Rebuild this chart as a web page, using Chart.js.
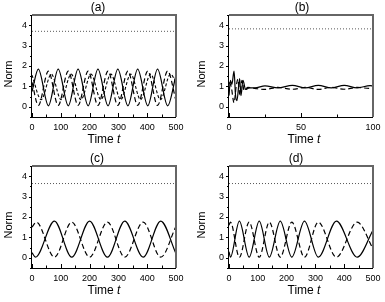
<!DOCTYPE html>
<html>
<head>
<meta charset="utf-8">
<script src="https://cdn.jsdelivr.net/npm/chart.js@4.4.0/dist/chart.umd.min.js"></script>
<style>
  body { margin: 0; background: #fff; }
  #wrap { position: relative; width: 385px; height: 302px; }
  .panel { position: absolute; }
</style>
</head>
<body>
<div id="wrap">
  <div class="panel" style="left:0;top:0"><canvas id="pa" width="192" height="151"></canvas></div>
  <div class="panel" style="left:192px;top:0"><canvas id="pb" width="193" height="151"></canvas></div>
  <div class="panel" style="left:0;top:151px"><canvas id="pc" width="192" height="151"></canvas></div>
  <div class="panel" style="left:192px;top:151px"><canvas id="pd" width="193" height="151"></canvas></div>
</div>
<script>
// panel (a)
const aSolidT = [0, 22, 57, 91, 126, 160, 195, 229, 264, 298, 333, 367, 402, 436, 471, 500];
const aSolidV = [0.75, 1.85, 0.05, 1.85, 0.05, 1.85, 0.05, 1.85, 0.05, 1.85, 0.05, 1.85, 0.05, 1.85, 0.05, 1.55];
const aDashT = [0, 22, 57, 91, 126, 160, 195, 229, 264, 298, 333, 367, 402, 436, 471, 500];
const aDashV = [1.2, 0.07, 1.75, 0.07, 1.75, 0.07, 1.75, 0.07, 1.75, 0.07, 1.75, 0.07, 1.75, 0.07, 1.75, 0.3];
const aDash2T = [0, 32, 67, 101, 136, 170, 205, 239, 274, 308, 343, 377, 412, 446, 481, 500];
const aDash2V = [1.55, 0.35, 1.6, 0.35, 1.6, 0.35, 1.6, 0.35, 1.6, 0.35, 1.6, 0.35, 1.6, 0.35, 1.6, 1.2];
const aTotal = 3.7;

// panel (b)
const bSolidT = [0, 1, 2, 3.5, 4.5, 5.5, 7.4, 8.3, 9.7, 11.5, 14, 18, 25, 34, 44, 53, 62, 71, 80, 89, 98, 100];
const bSolidV = [0.55, 1.3, 1.1, 1.75, 0.6, 0.3, 1.38, 0.55, 1.3, 0.85, 0.93, 0.93, 1.03, 0.93, 1.05, 0.93, 1.05, 0.93, 1.05, 0.93, 1.04, 1.02];
const bDashT = [0, 1.5, 3.5, 5, 6.2, 7.5, 9, 10.5, 13, 18, 25, 34, 44, 53, 62, 71, 80, 89, 98, 100];
const bDashV = [1.2, 1.0, 0.2, 1.0, 1.35, 0.6, 1.3, 0.8, 0.95, 0.9, 0.85, 0.95, 0.86, 0.95, 0.85, 0.95, 0.86, 0.95, 0.9, 0.92];
const bTotal = 3.82;

// panel (c)
const cSolidT = [0, 12, 78, 138, 200, 262, 322, 386, 447, 500];
const cSolidV = [0.25, 0.03, 1.8, 0.03, 1.8, 0.03, 1.8, 0.03, 1.8, 0.2];
const cDashT = [0, 15, 78, 138, 200, 262, 322, 386, 447, 500];
const cDashV = [1.5, 1.75, 0.03, 1.75, 0.03, 1.75, 0.03, 1.75, 0.03, 1.55];
const cTotal = 3.64;

// panel (d)
const dT = [0, 5, 36, 70, 105, 140, 178, 218, 262, 310, 373, 445, 500];
const dSolidV = [0.3, 0.03, 1.8, 0.03, 1.8, 0.03, 1.8, 0.03, 1.8, 0.03, 1.8, 0.03, 1.35];
const dDashV = [1.6, 1.75, 0.03, 1.75, 0.03, 1.75, 0.03, 1.75, 0.03, 1.75, 0.03, 1.75, 0.45];
const dTotal = 3.64;

// ticks
const xTicks500 = [0, 100, 200, 300, 400, 500];
const xMinor500 = [50, 150, 250, 350, 450];
const xTicks100 = [0, 50, 100];
const xMinor100 = [25, 75];
const yTicks = [0, 1, 2, 3, 4];
const yMinor = [-0.5, 0.5, 1.5, 2.5, 3.5, 4.5];
const FONT = '"Liberation Sans", Arial, sans-serif';

function pts(ts, vs) { return ts.map((t, i) => ({ x: t, y: vs[i] })); }

function line(data, dash, width, color) {
    return { data, borderColor: color || '#000', borderWidth: width || 1.2, borderDash: dash || [],
             pointRadius: 0, cubicInterpolationMode: 'monotone', fill: false };
}

const decor = {
    id: 'decor',
    afterDraw(chart, args, o) {
        const { ctx, chartArea: a, scales: { x, y } } = chart;
        ctx.save();
        ctx.strokeStyle = '#000';
        ctx.lineWidth = 1;
        const xt = (v, len) => {
            const px = Math.round(x.getPixelForValue(v)) + 0.5;
            ctx.beginPath(); ctx.moveTo(px, a.bottom); ctx.lineTo(px, a.bottom - len); ctx.stroke();
        };
        const yt = (v, len) => {
            const py = Math.round(y.getPixelForValue(v)) + 0.5;
            ctx.beginPath(); ctx.moveTo(a.left, py); ctx.lineTo(a.left - len, py); ctx.stroke();
        };
        o.xTicks.forEach(v => xt(v, 4));
        o.xMinor.forEach(v => xt(v, 2.5));
        yTicks.forEach(v => yt(v, 3));
        yMinor.forEach(v => yt(v, 2));
        // frame
        ctx.strokeStyle = '#666';
        ctx.lineWidth = 2;
        ctx.beginPath();
        ctx.moveTo(a.left, a.top); ctx.lineTo(a.right, a.top); ctx.lineTo(a.right, a.bottom);
        ctx.stroke();
        ctx.strokeStyle = '#000';
        ctx.lineWidth = 1;
        ctx.beginPath();
        ctx.moveTo(a.left - 0.5, a.top); ctx.lineTo(a.left - 0.5, a.bottom + 0.5); ctx.lineTo(a.right, a.bottom + 0.5);
        ctx.stroke();
        // tick labels
        ctx.fillStyle = '#000';
        ctx.textBaseline = 'middle';
        ctx.font = '9px ' + FONT;
        ctx.textAlign = 'center';
        o.xTicks.forEach(v => ctx.fillText(String(v), x.getPixelForValue(v), a.bottom + 11));
        ctx.textAlign = 'right';
        yTicks.forEach(v => ctx.fillText(String(v), a.left - 5, y.getPixelForValue(v)));
        // panel label
        ctx.textAlign = 'center';
        ctx.font = '12px ' + FONT;
        ctx.fillText(o.label, o.labelX, 8);
        // Time t
        const w1 = ctx.measureText('Time ').width;
        ctx.font = 'italic 12px ' + FONT;
        const w2 = ctx.measureText('t').width;
        const x0 = o.xTitleX - (w1 + w2) / 2;
        ctx.textAlign = 'left';
        ctx.font = '12px ' + FONT;
        ctx.fillText('Time ', x0, 140);
        ctx.font = 'italic 12px ' + FONT;
        ctx.fillText('t', x0 + w1, 140);
        // Norm
        ctx.font = '11px ' + FONT;
        ctx.textAlign = 'center';
        ctx.translate(o.yTitleX, 74);
        ctx.rotate(-Math.PI / 2);
        ctx.fillText('Norm', 0, 0);
        ctx.restore();
    }
};

function makeChart(id, datasets, cfg) {
    new Chart(document.getElementById(id), {
        type: 'line',
        data: { datasets },
        plugins: [decor],
        options: {
            responsive: false,
            animation: false,
            devicePixelRatio: 1,
            layout: { padding: { top: 15, right: cfg.padRight, left: cfg.left, bottom: 34 } },
            plugins: {
                legend: { display: false },
                tooltip: { enabled: false },
                decor: { label: cfg.label, labelX: cfg.labelX, xTitleX: cfg.xTitleX, yTitleX: cfg.yTitleX,
                         xTicks: cfg.xTicks, xMinor: cfg.xMinor }
            },
            scales: {
                x: { type: 'linear', min: 0, max: cfg.xMax, display: false },
                y: { min: -0.5, max: 4.5, display: false }
            }
        }
    });
}

makeChart('pa', [
    line(pts([0, 500], [aTotal, aTotal]), [1, 2], 1, '#555'),
    line(pts(aDash2T, aDash2V), [3, 2], 1.1),
    line(pts(aDashT, aDashV), [5, 3]),
    line(pts(aSolidT, aSolidV))
], { label: '(a)', labelX: 98, xTitleX: 104, yTitleX: 8.5, left: 32, padRight: 16, xMax: 500,
     xTicks: xTicks500, xMinor: xMinor500 });

makeChart('pb', [
    line(pts([0, 100], [bTotal, bTotal]), [1, 2], 1, '#555'),
    line(pts(bDashT, bDashV), [5, 3]),
    line(pts(bSolidT, bSolidV))
], { label: '(b)', labelX: 110, xTitleX: 112, yTitleX: 9.5, left: 37, padRight: 12, xMax: 100,
     xTicks: xTicks100, xMinor: xMinor100 });

makeChart('pc', [
    line(pts([0, 500], [cTotal, cTotal]), [1, 2], 1, '#555'),
    line(pts(cDashT, cDashV), [5, 3]),
    line(pts(cSolidT, cSolidV))
], { label: '(c)', labelX: 97, xTitleX: 104, yTitleX: 8.5, left: 32, padRight: 16, xMax: 500,
     xTicks: xTicks500, xMinor: xMinor500 });

makeChart('pd', [
    line(pts([0, 500], [dTotal, dTotal]), [1, 2], 1, '#555'),
    line(pts(dT, dDashV), [5, 3]),
    line(pts(dT, dSolidV))
], { label: '(d)', labelX: 104, xTitleX: 112, yTitleX: 9.5, left: 37, padRight: 12, xMax: 500,
     xTicks: xTicks500, xMinor: xMinor500 });
</script>
</body>
</html>
